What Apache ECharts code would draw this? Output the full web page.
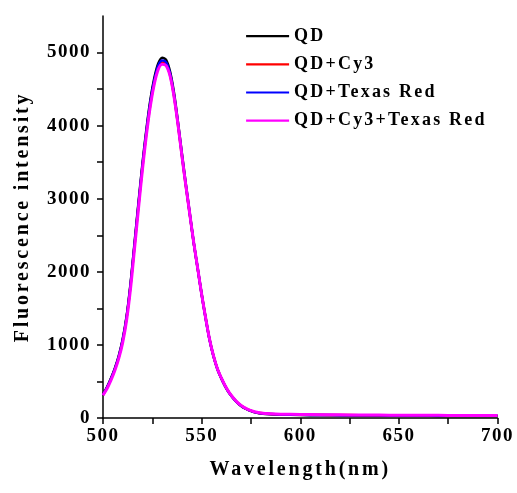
<!DOCTYPE html>
<html><head><meta charset="utf-8">
<script src="https://cdn.jsdelivr.net/npm/echarts@6/dist/echarts.min.js"></script>
<style>
html,body{margin:0;padding:0;background:#fff}
#c{width:517px;height:493px}
</style></head><body><div id="c"></div>
<script>
(function(){
  const P = CanvasRenderingContext2D.prototype;
  const ft = P.fillText, mt = P.measureText;
  function sp(ctx){
    const f = ctx.font || '';
    let s = '0px';
    if (f.indexOf('20px') >= 0) s = '2.8px';
    else if (f.indexOf('19px') >= 0) s = '1.5px';
    else if (f.indexOf('18px') >= 0) s = '2.2px';
    try { ctx.letterSpacing = s; } catch(e) {}
  }
  P.fillText = function(){ sp(this); return ft.apply(this, arguments); };
  P.measureText = function(){ sp(this); return mt.apply(this, arguments); };
})();
const wavelengths = [500,502,504,506,508,510,512,514,516,518,520,522,524,526,528,530,532,534,536,538,540,542,544,546,548,550,552,554,556,558,560,562,564,566,568,570,572,574,576,578,580,585,590,600,610,620,630,640,650,660,670,680,690,700];
const qd = [320,420,540,680,850,1080,1400,1850,2400,2950,3480,3950,4350,4650,4850,4930,4900,4740,4450,4050,3620,3200,2800,2400,2050,1700,1380,1080,850,670,540,430,340,270,210,165,130,105,85,72,63,52,46,41,38,36,34,33,31,30,29,28,27,26];
const qdCy3 = [315,410,530,665,835,1060,1375,1820,2360,2910,3430,3900,4290,4590,4790,4865,4840,4690,4400,4010,3580,3170,2780,2390,2040,1690,1370,1075,848,672,545,435,345,275,215,170,135,110,90,77,67,56,50,46,43,41,39,38,36,35,34,33,33,32];
const qdTexas = [318,415,535,672,842,1070,1385,1835,2380,2930,3455,3925,4320,4620,4820,4890,4865,4715,4420,4030,3600,3185,2790,2395,2045,1690,1365,1070,845,668,542,433,342,272,212,168,133,107,87,74,65,54,48,44,41,39,37,36,34,33,32,31,31,30];
const qdCy3Texas = [312,400,515,650,815,1035,1345,1780,2320,2870,3400,3870,4270,4570,4770,4840,4820,4680,4400,4020,3590,3180,2790,2400,2050,1695,1375,1080,852,675,548,438,348,278,218,173,138,112,92,79,69,58,52,48,45,43,41,40,38,37,36,35,35,34];
const seriesNames = ['QD','QD+Cy3','QD+Texas Red','QD+Cy3+Texas Red'];
const seriesColors = ['#000000','#ff0000','#0000ff','#ff00ff'];
const xTicks = [500,525,550,575,600,625,650,675,700];
const xLabels = [500,550,600,650,700];
const yTicks = [0,500,1000,1500,2000,2500,3000,3500,4000,4500,5000];
const yLabels = [0,1000,2000,3000,4000,5000];

const allValues = [qd, qdCy3, qdTexas, qdCy3Texas];
const font = "Liberation Serif";
const chart = echarts.init(document.getElementById('c'), null, {renderer:'canvas'});
const axisLine = {show:true,lineStyle:{color:'#000',width:1.5}};
const labelStyle = {color:'#000',fontFamily:font,fontWeight:'bold',fontSize:19};
const nameStyle = {color:'#000',fontFamily:font,fontWeight:'bold',fontSize:20};
chart.setOption({
  animation:false,
  backgroundColor:'#fff',
  textStyle:{fontFamily:font},
  grid:{left:103,right:18,top:16,bottom:75},
  legend:{
    orient:'vertical', left:240, top:21, itemWidth:43, itemHeight:14, itemGap:8,
    itemStyle:{opacity:0},
    lineStyle:{width:2.2},
    textStyle:{color:'#000',fontFamily:font,fontWeight:'bold',fontSize:18},
    data:seriesNames
  },
  xAxis:{
    type:'value', min:500, max:700, interval:25,
    name:'Wavelength(nm)', nameLocation:'middle', nameGap:40,
    axisLine:axisLine, splitLine:{show:false},
    axisTick:{show:true,length:6,lineStyle:{color:'#000',width:1.5},customValues:xTicks},
    axisLabel:Object.assign({},labelStyle,{margin:8,customValues:xLabels,formatter:v=>String(v)}),
    nameTextStyle:nameStyle
  },
  yAxis:{
    type:'value', min:0, max:5500, interval:500,
    name:'Fluorescence intensity', nameLocation:'middle', nameGap:69,
    axisLine:axisLine, splitLine:{show:false},
    axisTick:{show:true,length:6,lineStyle:{color:'#000',width:1.5},customValues:yTicks},
    axisLabel:Object.assign({},labelStyle,{margin:12,customValues:yLabels,formatter:v=>String(v)}),
    nameTextStyle:nameStyle
  },
  series: seriesNames.map((n,i)=>({
    name:n, type:'line', smooth:0.3, showSymbol:false, symbol:'none',
    color:seriesColors[i],
    lineStyle:{color:seriesColors[i], width: i===3 ? 3 : 2.5},
    data: wavelengths.map((w,j)=>[w, allValues[i][j]])
  }))
});
</script></body></html>
